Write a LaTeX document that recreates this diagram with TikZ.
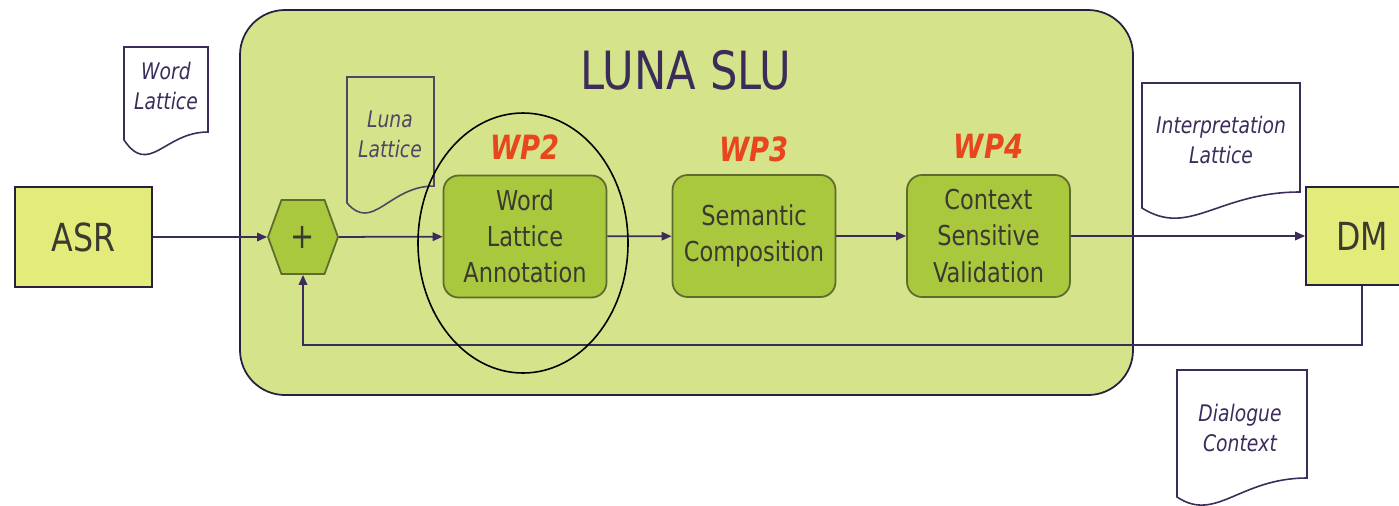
\documentclass[tikz,border=0pt]{standalone}
\usepackage{fontspec}
\setmainfont{DejaVu Sans}[FakeStretch=0.82]
\usepackage{tikz}
\usetikzlibrary{arrows.meta,positioning,shapes.symbols}
\definecolor{slubg}{HTML}{D5E48A}
\definecolor{sysfill}{HTML}{E3EC7A}
\definecolor{wpfill}{HTML}{A9C83E}
\definecolor{wpedge}{HTML}{5E6A2E}
\definecolor{ink}{HTML}{3B2C5A}
\definecolor{wpred}{HTML}{E8461E}
\definecolor{boxtext}{HTML}{3A3A30}

% document sheet with a wavy bottom: style, x1, top, x2, right foot, lowest point, left foot
\newcommand{\docframe}[7]{%
  \draw[#1] (#2,#3) -- (#4,#3) -- (#4,#5)
    .. controls ({#2+0.48*(#4-#2)},#5) and ({#2+0.3*(#4-#2)},{#6+20}) .. (#2,#7) -- cycle;}

\begin{document}
\begin{tikzpicture}[x=0.02cm, y=-0.02cm,
  sysbox/.style={draw=ink!70!black, line width=1pt, fill=sysfill, minimum width=2.74cm, minimum height=2cm, font=\fontsize{22}{26}\selectfont, text=boxtext},
  wpbox/.style={draw=wpedge, line width=1pt, fill=wpfill, rounded corners=0.3cm, minimum width=3.26cm, minimum height=2.44cm, align=center, font=\fontsize{15.6}{20.5}\selectfont, text=boxtext},
  wplabel/.style={font=\fontsize{19}{22}\selectfont\bfseries\itshape, text=wpred},
  doctext/.style={align=center, font=\fontsize{13}{17}\selectfont\itshape, text=ink},
  doc/.style={draw=ink, line width=0.9pt, fill=white},
  arr/.style={-{Triangle[length=0.2cm,width=0.17cm]}, draw=ink, line width=1pt}
]
\clip (0,0) rectangle (1399,505);
\fill[white] (0,0) rectangle (1399,505);

% input / output documents
\docframe{doc}{124}{47}{208}{132}{157}{140}
\node[doctext] (wordlat) at (166,86) {Word\\Lattice};
\docframe{doc}{1142}{83}{1300}{192}{218}{208}
\node[doctext] (interlat) at (1221,140) {Interpretation\\Lattice};
\docframe{doc}{1177}{370}{1307}{478}{503}{497}
\node[doctext] (dialctx) at (1240,428) {Dialogue\\Context};

% LUNA SLU container
\draw[draw=ink!70!black, line width=1pt, fill=slubg, rounded corners=0.9cm] (240,10) rectangle (1133,395);
\node[font=\fontsize{30}{32}\selectfont, text=ink] (slutitle) at (686,70) {LUNA SLU};
\docframe{doc, fill=none, draw=ink!70!gray}{347}{77}{434}{186}{213}{203}
\node[doctext, text=ink!70!gray] (lunalat) at (390,134) {Luna\\Lattice};

\node[sysbox] (asr) at (83.5,237) {ASR};
\node[sysbox, minimum width=2.24cm, minimum height=1.96cm] (dm) at (1362,236) {DM};

\node[signal, signal to=west and east, signal pointer angle=140, draw=wpedge, line width=1pt, fill=wpfill,
  minimum width=1.4cm, minimum height=1.48cm, inner sep=0pt, font=\fontsize{20}{22}\selectfont, text=boxtext] (hex) at (303,237) {+};

\node[wpbox] (wla) at (525,236.5) {Word\\Lattice\\Annotation};
\node[wpbox] (semcomp) at (754,236) {Semantic\\Composition};
\node[wpbox] (csv) at (988.5,236) {Context\\Sensitive\\Validation};

\node[wplabel, above=0.18cm of wla] (wp2) {WP2};
\node[wplabel, above=0.12cm of semcomp] (wp3) {WP3};
\node[wplabel, above=0.18cm of csv] (wp4) {WP4};

\draw[arr] (asr) -- (hex);
\draw[arr] (hex) -- (wla);
\draw[arr] (wla) -- (semcomp);
\draw[arr] (semcomp) -- (csv);
\draw[arr] (csv) -- (dm);
\coordinate (fbturn) at (303,345);
\draw[arr] (dm.south) |- (fbturn) -- (hex.south);

\draw[black, line width=0.9pt] (523,243) ellipse [x radius=105, y radius=130];
\end{tikzpicture}
\end{document}
